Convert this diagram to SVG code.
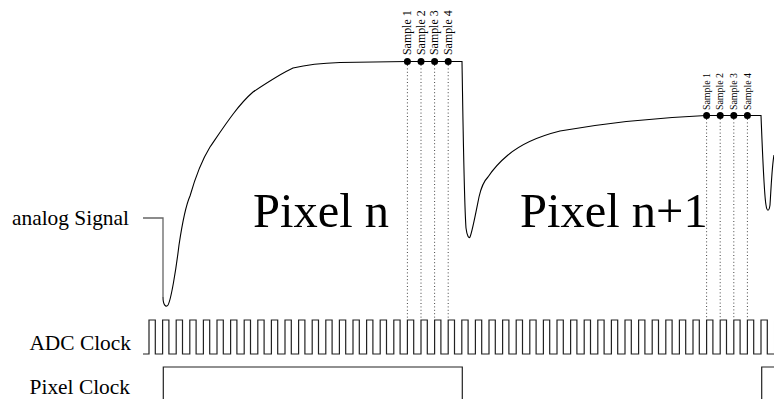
<svg xmlns="http://www.w3.org/2000/svg" width="774" height="399" viewBox="0 0 774 399">
<style>
.lbl{font-family:"Liberation Serif","Times New Roman",serif;fill:#000}
.side{font-size:21.4px;text-anchor:end}
.big{font-size:48.5px}
.s1{font-size:11.9px}
.s2{font-size:9.9px}
.sig{fill:none;stroke:#000;stroke-width:1.1}
.clk{fill:none;stroke:#222;stroke-width:1.2}
.lead{fill:none;stroke:#666;stroke-width:1.3}
.dot{fill:none;stroke:#444;stroke-width:1;stroke-dasharray:1 2.4}
.pt{fill:#000}
</style>
<rect width="774" height="399" fill="#fff"/>
<g id="labels">
<text class="lbl side" x="129" y="225">analog Signal</text>
<text class="lbl side" x="131" y="350">ADC Clock</text>
<text class="lbl side" x="130" y="394">Pixel Clock</text>
<text class="lbl big" x="253" y="227">Pixel n</text>
<text class="lbl big" x="520" y="227">Pixel n+1</text>
</g>
<g id="connectors">
<path class="lead" d="M143,218 H163 V297"/>
<g id="sample-lines-1">
<line class="dot" x1="407.4" y1="65" x2="407.4" y2="318"/>
<line class="dot" x1="421" y1="65" x2="421" y2="318"/>
<line class="dot" x1="434.6" y1="65" x2="434.6" y2="318"/>
<line class="dot" x1="448.2" y1="65" x2="448.2" y2="318"/>
</g>
<g id="sample-lines-2">
<line class="dot" x1="706.6" y1="119" x2="706.6" y2="318"/>
<line class="dot" x1="720.2" y1="119" x2="720.2" y2="318"/>
<line class="dot" x1="733.8" y1="119" x2="733.8" y2="318"/>
<line class="dot" x1="747.4" y1="119" x2="747.4" y2="318"/>
</g>
</g>
<g id="analog-signal">
<path class="sig" d="M163,297 C163,305 166,308 168,305 C171,300 176,270 179,245 C182,225 186,205 190,196 C196,175 202,160 210,147 C225,125 238,105 253,92 C268,82 280,74 293,68 C310,64 325,63 340,62.5 L407,61.5 H462 C463,120 464,200 466,228 C467,236 469,239 470,237 C472,233 476,212 479,197 C481,188 484,181 488,177 C494,168 502,160 508,155 C520,145 540,136 560,131 C600,124 650,118 706,115.5 H761 C762,140 764,195 766,205 C767,212 769,212 770,205 C771,190 772,165 774,155"/>
</g>
<g id="samples-n">
<circle class="pt" cx="407.4" cy="61.5" r="3.5"/>
<circle class="pt" cx="421" cy="61.5" r="3.5"/>
<circle class="pt" cx="434.6" cy="61.5" r="3.5"/>
<circle class="pt" cx="448.2" cy="61.5" r="3.5"/>
<text class="lbl s1" transform="translate(411,55) rotate(-90)">Sample 1</text>
<text class="lbl s1" transform="translate(424.6,55) rotate(-90)">Sample 2</text>
<text class="lbl s1" transform="translate(438.2,55) rotate(-90)">Sample 3</text>
<text class="lbl s1" transform="translate(451.8,55) rotate(-90)">Sample 4</text>
</g>
<g id="samples-n1">
<circle class="pt" cx="706.6" cy="115.5" r="3.5"/>
<circle class="pt" cx="720.2" cy="115.5" r="3.5"/>
<circle class="pt" cx="733.8" cy="115.5" r="3.5"/>
<circle class="pt" cx="747.4" cy="115.5" r="3.5"/>
<text class="lbl s2" transform="translate(709.8,110) rotate(-90)">Sample 1</text>
<text class="lbl s2" transform="translate(723.4,110) rotate(-90)">Sample 2</text>
<text class="lbl s2" transform="translate(737,110) rotate(-90)">Sample 3</text>
<text class="lbl s2" transform="translate(750.6,110) rotate(-90)">Sample 4</text>
</g>
<g id="adc-clock">
<path class="clk" d="M143,354 H149 v-34 h6.3 v34 h7.3 v-34 h6.3 v34 h7.3 v-34 h6.3 v34 h7.3 v-34 h6.3 v34 h7.3 v-34 h6.3 v34 h7.3 v-34 h6.3 v34 h7.3 v-34 h6.3 v34 h7.3 v-34 h6.3 v34 h7.3 v-34 h6.3 v34 h7.3 v-34 h6.3 v34 h7.3 v-34 h6.3 v34 h7.3 v-34 h6.3 v34 h7.3 v-34 h6.3 v34 h7.3 v-34 h6.3 v34 h7.3 v-34 h6.3 v34 h7.3 v-34 h6.3 v34 h7.3 v-34 h6.3 v34 h7.3 v-34 h6.3 v34 h7.3 v-34 h6.3 v34 h7.3 v-34 h6.3 v34 h7.3 v-34 h6.3 v34 h7.3 v-34 h6.3 v34 h7.3 v-34 h6.3 v34 h7.3 v-34 h6.3 v34 h7.3 v-34 h6.3 v34 h7.3 v-34 h6.3 v34 h7.3 v-34 h6.3 v34 h7.3 v-34 h6.3 v34 h7.3 v-34 h6.3 v34 h7.3 v-34 h6.3 v34 h7.3 v-34 h6.3 v34 h7.3 v-34 h6.3 v34 h7.3 v-34 h6.3 v34 h7.3 v-34 h6.3 v34 h7.3 v-34 h6.3 v34 h7.3 v-34 h6.3 v34 h7.3 v-34 h6.3 v34 h7.3 v-34 h6.3 v34 h7.3 v-34 h6.3 v34 h7.3 v-34 h6.3 v34 h7.3 v-34 h6.3 v34 h7.3 v-34 h6.3 v34 h7.3 v-34 h6.3 v34 h7.3 v-34 h6.3 v34 h7.3 v-34 h6.3 v34 h7.3 v-34 h6.3 v34 h7.3 v-34 h6.3 v34 H774"/>
</g>
<g id="pixel-clock">
<path class="clk" d="M163.3,399 V367 H462.3 V399"/>
<path class="clk" d="M761.7,399 V367 H774"/>
</g>
</svg>
